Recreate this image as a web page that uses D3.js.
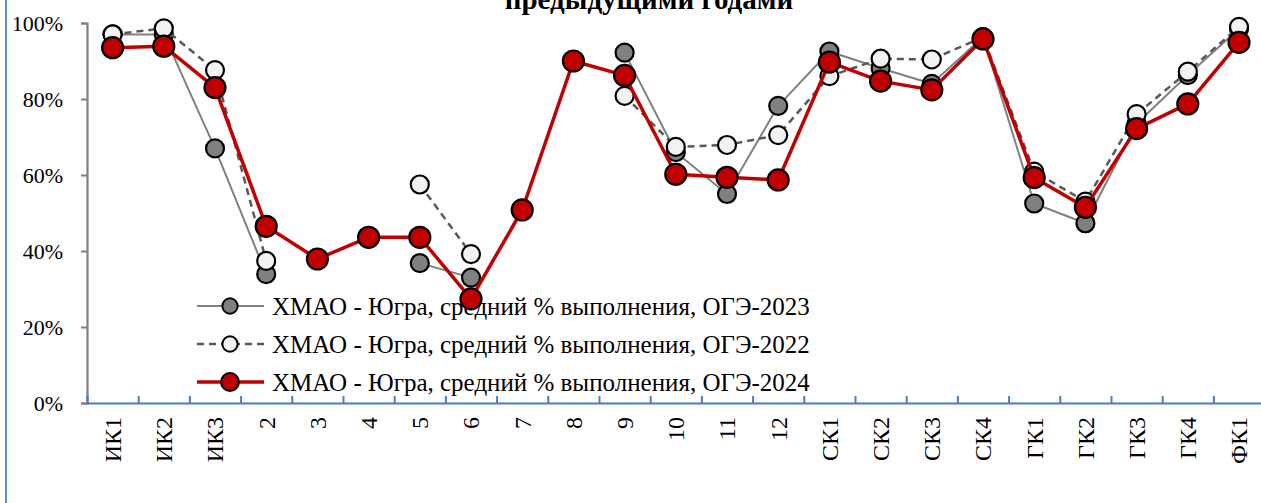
<!DOCTYPE html>
<html lang="ru">
<head>
<meta charset="utf-8">
<script src="https://cdn.jsdelivr.net/npm/d3@7"></script>
<style>
  html, body { margin: 0; padding: 0; background: #fff; }
  svg { display: block; }
  text { font-family: "Liberation Serif", "Times New Roman", serif; fill: #000; }
</style>
</head>
<body>
<svg id="chart" width="1261" height="503"></svg>
<script>
// Task categories of the exam
const categories = ["ИК1","ИК2","ИК3","2","3","4","5","6","7","8","9","10","11","12",
                    "СК1","СК2","СК3","СК4","ГК1","ГК2","ГК3","ГК4","ФК1"];

// Average completion, % (null = no task in that year)
const oge2023 = [97.0, 97.0, 67.0, 33.9, null, null, 36.8, 33.0, null, null, 92.2, 66.0, 55.0, 78.2,
                 92.5, 88.1, 84.0, 96.3, 52.5, 47.3, 73.5, 86.3, 98.5];
const oge2022 = [97.0, 98.6, 87.6, 37.4, null, null, 57.5, 39.2, null, null, 80.8, 67.4, 67.9, 70.5,
                 86.0, 90.6, 90.4, 96.3, 60.9, 53.0, 76.0, 87.2, 99.0];
const oge2024 = [93.5, 93.9, 83.0, 46.5, 37.9, 43.6, 43.6, 27.4, 50.8, 90.0, 86.2, 60.2, 59.4, 58.7,
                 89.7, 84.7, 82.4, 95.8, 59.3, 51.5, 72.2, 78.7, 94.9];

const yTicks = [0, 20, 40, 60, 80, 100];
const seriesNames = [
  "ХМАО - Югра, средний % выполнения, ОГЭ-2023",
  "ХМАО - Югра, средний % выполнения, ОГЭ-2022",
  "ХМАО - Югра, средний % выполнения, ОГЭ-2024"
];
const titleText = "предыдущими годами";

const svg = d3.select("#chart");

const x0 = 87, step = 51.2;
const x = d3.scaleBand().domain(categories).range([x0, x0 + step * categories.length]).padding(0);
const xb = d3.scaleLinear().domain([0, categories.length]).range([x0, x0 + step * categories.length]);
const y = d3.scaleLinear().domain([0, 100]).range([403, 23]);

// outer frame edge on the left
svg.append("line").attr("x1", 6).attr("x2", 6).attr("y1", 0).attr("y2", 503)
  .attr("stroke", "#5b8fd0").attr("stroke-width", 2);

// title (its upper lines sit above the frame)
svg.append("text").attr("x", 649).attr("y", 9).attr("text-anchor", "middle")
  .attr("font-weight", "bold").attr("font-size", 29).text(titleText);

// y axis
const yAxis = svg.append("g").attr("transform", `translate(${x0},0)`)
  .call(d3.axisLeft(y).tickValues(yTicks).tickFormat(d => d + "%").tickSize(6).tickPadding(18));
yAxis.select(".domain").attr("stroke", "#808080").attr("stroke-width", 2.2);
yAxis.selectAll(".tick line").attr("stroke", "#808080").attr("stroke-width", 2);
yAxis.selectAll(".tick text").attr("font-size", 22).attr("font-family", null).attr("fill", "#000");

// x axis: boundary ticks pointing up
const xAxis = svg.append("g").attr("transform", `translate(0,${y(0)})`)
  .call(d3.axisTop(xb).tickValues(d3.range(1, categories.length)).tickSize(7).tickFormat(""));
xAxis.select(".domain").attr("stroke", "#4a7ebb").attr("stroke-width", 2.2);
xAxis.selectAll(".tick line").attr("stroke", "#4a7ebb").attr("stroke-width", 2);

// x labels, rotated
const xLab = svg.append("g").attr("transform", `translate(0,${y(0)})`)
  .call(d3.axisBottom(x).tickSize(0).tickPadding(0));
xLab.select(".domain").remove();
xLab.selectAll(".tick text")
  .attr("font-size", 24).attr("fill", "#000")
  .attr("text-anchor", "end")
  .attr("transform", "rotate(-90)")
  .attr("x", -14).attr("y", 0).attr("dy", "0.35em");

const styles = [
  { data: oge2023, stroke: "#808080", width: 2, dash: null, fill: "#808080", r: 9 },
  { data: oge2022, stroke: "#595959", width: 2.5, dash: "7,5", fill: "#f2f2f2", r: 9 },
  { data: oge2024, stroke: "#c00000", width: 3.5, dash: null, fill: "#c00000", r: 10.5 }
];

const line = d3.line()
  .defined(d => d.v != null)
  .x(d => x(d.c) + x.bandwidth() / 2)
  .y(d => y(d.v));

// legend
const legY = [306, 344, 382];
const leg = svg.append("g");
styles.forEach((s, i) => {
  const g = leg.append("g").attr("transform", `translate(0,${legY[i]})`);
  g.append("line").attr("x1", 197).attr("x2", 264).attr("y1", 0).attr("y2", 0)
    .attr("stroke", s.stroke).attr("stroke-width", s.width)
    .attr("stroke-dasharray", s.dash);
  g.append("circle").attr("cx", 230).attr("cy", 0).attr("r", s.r * 0.85)
    .attr("fill", s.fill).attr("stroke", "#000").attr("stroke-width", 2);
  g.append("text").attr("x", 272).attr("y", 0).attr("dy", "0.35em")
    .attr("font-size", 25).text(seriesNames[i]);
});

// series
styles.forEach(s => {
  const pts = categories.map((c, i) => ({ c, v: s.data[i] }));
  const g = svg.append("g");
  g.append("path").datum(pts).attr("d", line)
    .attr("fill", "none").attr("stroke", s.stroke).attr("stroke-width", s.width)
    .attr("stroke-dasharray", s.dash).attr("stroke-linejoin", "round");
  g.selectAll("circle").data(pts.filter(d => d.v != null)).join("circle")
    .attr("cx", d => x(d.c) + x.bandwidth() / 2)
    .attr("cy", d => y(d.v))
    .attr("r", s.r)
    .attr("fill", s.fill).attr("stroke", "#000").attr("stroke-width", 2.2);
});
</script>
</body>
</html>
